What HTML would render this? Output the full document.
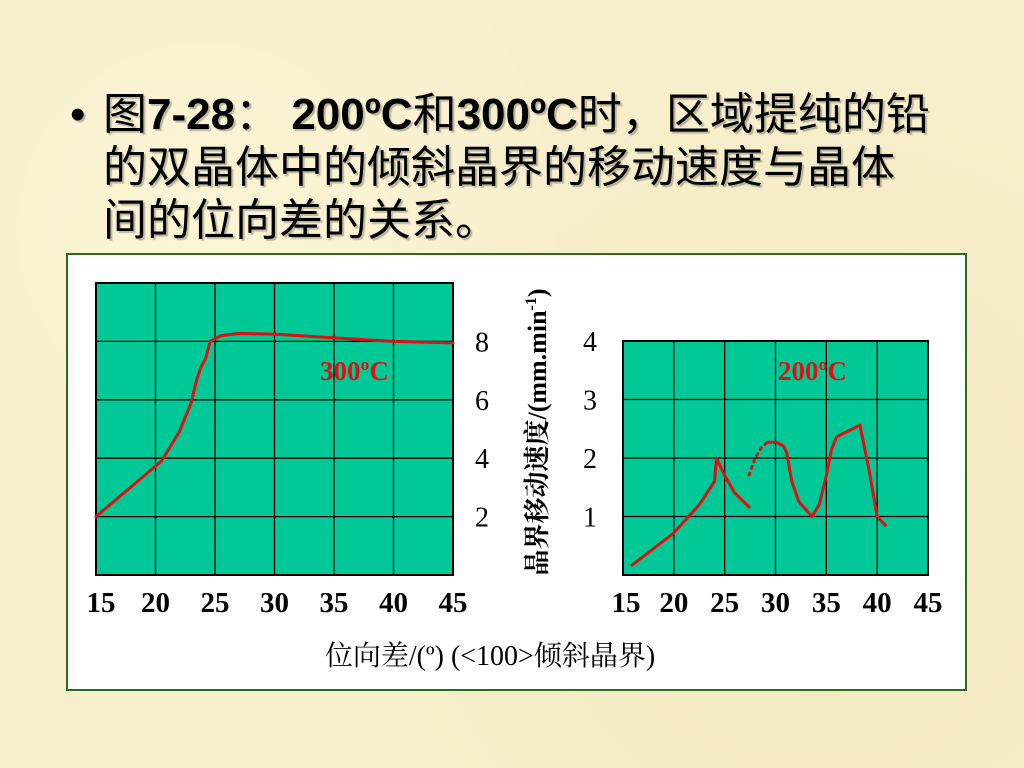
<!DOCTYPE html>
<html><head><meta charset="utf-8">
<style>
html,body{margin:0;padding:0}
body{width:1024px;height:768px;overflow:hidden;position:relative;background:#f7eecb;
background-image:radial-gradient(circle at 20% 30%,rgba(255,250,220,.6),transparent 40%),radial-gradient(circle at 80% 70%,rgba(235,220,170,.4),transparent 45%);
font-family:"Liberation Sans","Noto Sans CJK SC",sans-serif}
#title{position:absolute;left:70px;top:88px;width:920px;font-size:44px;line-height:53px;color:#000;text-shadow:2px 2px 1px rgba(0,0,0,.25)}
#title .b{font-weight:bold}
.line{position:absolute;left:33px;white-space:nowrap}
#panel{position:absolute;left:66px;top:253px;width:897px;height:434px;background:#fff;border:2px solid #2c6b1f}
svg{position:absolute;left:0;top:0}
</style></head><body>
<div id="title">
<span style="position:absolute;left:0;top:0">•</span>
<div class="line" style="top:0">图<span class="b">7-28</span>： <span class="b">200ºC</span>和<span class="b">300ºC</span>时，区域提纯的铅</div>
<div class="line" style="top:53px">的双晶体中的倾斜晶界的移动速度与晶体</div>
<div class="line" style="top:106px">间的位向差的关系。</div>
</div>
<div id="panel"></div>
<svg id="chart" width="1024" height="768"></svg>
<script>
const xTicks=[15,20,25,30,35,40,45];
const leftYTicks=[2,4,6,8];
const rightYTicks=[1,2,3,4];
const x300=[15,20.5,22,23,23.4,23.8,24.2,24.6,25.5,27,30,35,40,45];
const y300=[2.0,3.9,4.9,5.9,6.6,7.1,7.4,8.0,8.2,8.27,8.25,8.12,8.0,7.95];
const x200a=[15.9,20,22.5,24.0,24.2,25,26,27.4];
const y200a=[0.17,0.72,1.2,1.6,2.0,1.7,1.4,1.16];
const x200dot=[27.4,28,28.6,29.2];
const y200dot=[1.71,2.0,2.18,2.27];
const x200b=[29.2,30.1,30.8,31.1,31.6,32.3,33.6,34.3,35.0,35.5,36.0,38.3,39.2,40.0,40.8];
const y200b=[2.27,2.27,2.2,2.09,1.6,1.25,1.0,1.2,1.7,2.14,2.36,2.56,1.8,1.0,0.85];
const NS="http://www.w3.org/2000/svg";
const svg=document.getElementById('chart');
function mk(tag,attrs,parent){const e=document.createElementNS(NS,tag);for(const k in attrs)e.setAttribute(k,attrs[k]);(parent||svg).appendChild(e);return e;}
function axes(x0,x1,y0,y1,ymax){return {sx:v=>x0+(v-15)/30*(x1-x0),sy:v=>y1-v/ymax*(y1-y0)};}
function grid(name,x0,x1,y0,y1,rows){
 const g=mk('g',{});
 
 
 mk('rect',{x:x0,y:y0,width:x1-x0,height:y1-y0,fill:'#00c896',stroke:'#000','stroke-width':2},g);
 for(let i=1;i<6;i++){const x=x0+i*(x1-x0)/6;mk('line',{x1:x,x2:x,y1:y0,y2:y1,stroke:'#000','stroke-width':1.3},g);}
 for(let i=1;i<rows;i++){const y=y0+i*(y1-y0)/rows;mk('line',{x1:x0,x2:x1,y1:y,y2:y,stroke:'#000','stroke-width':1.3},g);}
}
function path(ax,xs,ys,name,dash){
 const d=xs.map((v,i)=>(i?'L':'M')+ax.sx(v).toFixed(1)+' '+ax.sy(ys[i]).toFixed(1)).join(' ');
 const p=mk('path',{d:d,fill:'none',stroke:'#e01010','stroke-width':3,'stroke-linejoin':'round','stroke-linecap':'round'});
 if(dash)p.setAttribute('stroke-dasharray','2 5');
 
 
}
function txt(s,x,y,size,name,extra){
 const t=mk('text',Object.assign({x:x,y:y,'font-size':size,'font-family':'"Liberation Serif","Noto Serif CJK SC",serif'},extra||{}));
 t.textContent=s;
 
 
 return t;
}
// left chart
const L=axes(96,453,283,575,10);
grid('left-plot-area',96,453,283,575,5);
path(L,x300,y300,'line-300c');
txt('300ºC',320,380,27,'label-300c',{fill:'#e01010','font-weight':'bold'});
xTicks.forEach((v,i)=>{txt(String(v),L.sx(v)+(i==0?5:0),612,29,'left-x-tick',{'text-anchor':'middle','font-weight':'bold'});});
leftYTicks.forEach(v=>{txt(String(v),482,L.sy(v)+10,28,'left-y-tick',{'text-anchor':'middle'});});
// right chart
const R=axes(623,928,341,575,4);
grid('right-plot-area',623,928,341,575,4);
path(R,x200a,y200a,'line-200c-part1');
path(R,x200dot,y200dot,'line-200c-dotted',true);
path(R,x200b,y200b,'line-200c-part2');
txt('200ºC',778,380,27,'label-200c',{fill:'#e01010','font-weight':'bold'});
xTicks.forEach((v,i)=>{txt(String(v),R.sx(v)+(i==0?3:0),612,29,'right-x-tick',{'text-anchor':'middle','font-weight':'bold'});});
rightYTicks.forEach(v=>{txt(String(v),590,R.sy(v)+10,28,'right-y-tick',{'text-anchor':'middle'});});
// axis titles
const yt=txt('晶界移动速度/(mm.min',0,0,26,'y-axis-title',{'text-anchor':'middle','transform':'translate(546,432) rotate(-90)'});
const ts=mk('tspan',{'font-size':16,dy:-10},yt);ts.textContent='-1';
const ts2=mk('tspan',{dy:10},yt);ts2.textContent=')';
yt.setAttribute('font-weight','bold');
txt('位向差/(º) (<100>倾斜晶界)',490,665,28,'x-axis-title',{'text-anchor':'middle'});
</script>
</body></html>
